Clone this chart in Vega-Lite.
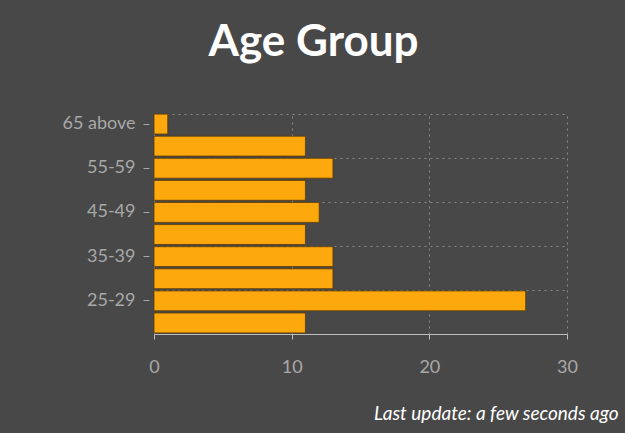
{
  "$schema": "https://vega.github.io/schema/vega-lite/v6.json",
  "autosize": "none",
  "width": 413,
  "height": 221,
  "padding": {"left": 154, "top": 113, "right": 58, "bottom": 99},
  "background": "#484848",
  "title": {
    "text": "Age Group",
    "font": "Lato",
    "fontSize": 44,
    "fontWeight": "bold",
    "color": "#ffffff",
    "anchor": "middle",
    "dx": -47,
    "offset": 48
  },
  "config": {
    "view": {"stroke": null},
    "axis": {"labelFont": "Lato", "labelColor": "#a8a8a8", "labelFontSize": 18}
  },
  "data": {
    "values": [
      {"age": "20-24", "count": 11},
      {"age": "25-29", "count": 27},
      {"age": "30-34", "count": 13},
      {"age": "35-39", "count": 13},
      {"age": "40-44", "count": 11},
      {"age": "45-49", "count": 12},
      {"age": "50-54", "count": 11},
      {"age": "55-59", "count": 13},
      {"age": "60-64", "count": 11},
      {"age": "65 above", "count": 1}
    ]
  },
  "layer": [
    {
      "mark": {"type": "bar", "opacity": 0},
      "encoding": {
        "y": {
          "field": "age", "type": "nominal",
          "sort": ["65 above","60-64","55-59","50-54","45-49","40-44","35-39","30-34","25-29","20-24"],
          "scale": {"paddingInner": 0.1, "paddingOuter": 0.05},
          "axis": {"orient": "left", "values": ["65 above","55-59","45-49","35-39","25-29"], "labels": false, "ticks": false, "domain": false, "grid": true, "bandPosition": 0, "gridColor": "#8a8a8a", "gridDash": [2, 4], "gridWidth": 1, "title": null}
        },
        "x": {
          "field": "count", "type": "quantitative",
          "scale": {"domain": [0, 30]},
          "axis": {"orient": "bottom", "values": [0, 10, 20, 30], "grid": true, "gridColor": "#8a8a8a", "gridDash": [2, 4], "labels": false, "ticks": false, "domain": false, "title": null}
        }
      }
    },
    {
      "mark": {"type": "bar", "color": "#FDA80D", "stroke": "#5a3a08", "strokeWidth": 0.8},
      "encoding": {
        "y": {
          "field": "age", "type": "nominal",
          "sort": ["65 above","60-64","55-59","50-54","45-49","40-44","35-39","30-34","25-29","20-24"],
          "axis": {"orient": "left", "offset": 5, "values": ["65 above","55-59","45-49","35-39","25-29"], "grid": false, "domain": false, "ticks": true, "tickColor": "#a8a8a8", "tickSize": 6, "labelPadding": 8, "title": null}
        },
        "x": {
          "field": "count", "type": "quantitative",
          "axis": {"orient": "bottom", "values": [0, 10, 20, 30], "labelFlush": false, "grid": false, "domain": true, "domainColor": "#bdbdbd", "tickColor": "#bdbdbd", "tickSize": 5, "labelPadding": 19,
            "title": "Last update: a few seconds ago", "titleFont": "Lato", "titleFontStyle": "italic", "titleFontWeight": "normal", "titleFontSize": 19, "titleColor": "#ffffff", "titleAnchor": "end", "titleAlign": "right", "titleX": 464, "titleY": 70}
        }
      }
    }
  ],
  "resolve": {"axis": {"y": "independent", "x": "independent"}}
}
